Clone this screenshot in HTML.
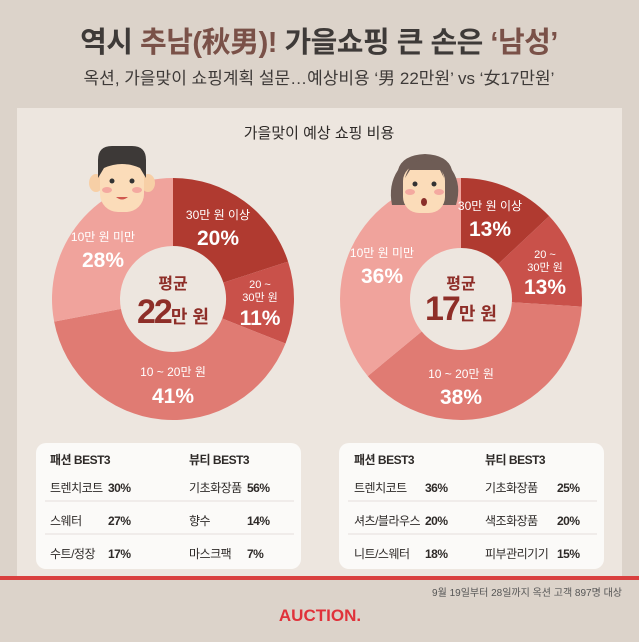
<!DOCTYPE html>
<html><head><meta charset="utf-8"><style>
html,body{margin:0;padding:0}
body{width:639px;height:637px;background:#dcd3ca;font-family:"Liberation Sans","Noto Sans CJK KR",sans-serif;overflow:hidden;position:relative}
svg text{font-family:"Liberation Sans","Noto Sans CJK KR",sans-serif}
</style></head><body>
<svg id="s" width="639" height="637" viewBox="0 0 639 637" xmlns="http://www.w3.org/2000/svg">
<rect x="0" y="0" width="639" height="637" fill="#dcd3ca"/>
<rect x="17" y="108" width="605" height="470" fill="#ede6df"/>
<rect x="0" y="576" width="639" height="4" fill="#d9403f"/>
<text x="319" y="52" text-anchor="middle" font-size="29" font-weight="bold" fill="#3e3a38" letter-spacing="-0.5">역시 <tspan fill="#7a5148">추남(秋男)!</tspan> 가을쇼핑 큰 손은 <tspan fill="#7a5148">‘남성’</tspan></text>
<text x="319" y="84" text-anchor="middle" font-size="17" fill="#3e3a38">옥션, 가을맞이 쇼핑계획 설문…예상비용 ‘男 22만원’ vs ‘女17만원’</text>
<text x="319" y="138" text-anchor="middle" font-size="15" fill="#2e2a28">가을맞이 예상 쇼핑 비용</text>
<g id="d1"></g><g id="d2"></g>
<g>
<ellipse cx="96" cy="183" rx="7" ry="9" fill="#f7cfa6"/>
<ellipse cx="148" cy="183" rx="7" ry="9" fill="#f7cfa6"/>
<rect x="100" y="160" width="44" height="52" rx="18" fill="#fbdcb9"/>
<path d="M98 178 L98 160 Q98 146 112 146 L132 146 Q146 146 146 160 L146 178 L140 168 Q122 160 104 168 Z" fill="#3d3937"/>
<circle cx="112" cy="181" r="2.5" fill="#333"/><circle cx="132" cy="181" r="2.5" fill="#333"/>
<ellipse cx="107" cy="190" rx="5" ry="3" fill="#f4a9a0"/><ellipse cx="137" cy="190" rx="5" ry="3" fill="#f4a9a0"/>
<path d="M116 197 Q122 202 128 197 Z" fill="#d0584e"/>
</g>
<g>
<path d="M392 205 Q388 185 398 170 Q402 155 425 154 Q448 155 452 170 Q462 185 456 205 Z" fill="#6e5c55"/>
<rect x="403" y="165" width="42" height="48" rx="16" fill="#fbdcb9"/>
<path d="M405 178 Q410 160 425 159 Q440 160 444 178 L440 170 L410 170 Z" fill="#6e5c55"/>
<circle cx="415" cy="184" r="2.5" fill="#333"/><circle cx="434" cy="184" r="2.5" fill="#333"/>
<ellipse cx="410" cy="192" rx="5" ry="3" fill="#f4a9a0"/><ellipse cx="439" cy="192" rx="5" ry="3" fill="#f4a9a0"/>
<ellipse cx="424" cy="202" rx="3" ry="4" fill="#8a2f2a"/>
</g>
<g fill="#fff" text-anchor="middle">
<text x="218" y="219" font-size="12">30만 원 이상</text>
<text x="218" y="245" font-size="21" font-weight="bold">20%</text>
<text x="260" y="288" font-size="11">20 ~</text>
<text x="260" y="301" font-size="11">30만 원</text>
<text x="260" y="325" font-size="21" font-weight="bold">11%</text>
<text x="173" y="376" font-size="12">10 ~ 20만 원</text>
<text x="173" y="403" font-size="21" font-weight="bold">41%</text>
<text x="103" y="241" font-size="12">10만 원 미만</text>
<text x="103" y="267" font-size="21" font-weight="bold">28%</text>
<text x="490" y="210" font-size="12">30만 원 이상</text>
<text x="490" y="236" font-size="21" font-weight="bold">13%</text>
<text x="545" y="258" font-size="11">20 ~</text>
<text x="545" y="271" font-size="11">30만 원</text>
<text x="545" y="294" font-size="21" font-weight="bold">13%</text>
<text x="461" y="378" font-size="12">10 ~ 20만 원</text>
<text x="461" y="404" font-size="21" font-weight="bold">38%</text>
<text x="382" y="257" font-size="12">10만 원 미만</text>
<text x="382" y="283" font-size="21" font-weight="bold">36%</text>
</g>
<g fill="#8e2e28" text-anchor="middle" font-weight="bold">
<text x="173" y="289" font-size="16">평균</text>
<text x="173" y="323" font-size="18"><tspan font-size="34" letter-spacing="-2">22</tspan>만 원</text>
<text x="461" y="289" font-size="16">평균</text>
<text x="461" y="320" font-size="18"><tspan font-size="34" letter-spacing="-2">17</tspan>만 원</text>
</g>
<rect x="36" y="443" width="265" height="126" rx="10" fill="#fbfaf8"/>
<rect x="339" y="443" width="265" height="126" rx="10" fill="#fbfaf8"/>
<g stroke="#e4dedb" stroke-width="1">
<line x1="45" y1="501" x2="294" y2="501"/><line x1="45" y1="534" x2="294" y2="534"/>
<line x1="348" y1="501" x2="597" y2="501"/><line x1="348" y1="534" x2="597" y2="534"/>
</g>
<g font-size="12" fill="#2e2a28" letter-spacing="-0.5">
<text x="50" y="464" font-weight="bold">패션 BEST3</text><text x="189" y="464" font-weight="bold">뷰티 BEST3</text>
<text x="50" y="492">트렌치코트</text><text x="108" y="492" font-weight="bold">30%</text>
<text x="189" y="492">기초화장품</text><text x="247" y="492" font-weight="bold">56%</text>
<text x="50" y="525">스웨터</text><text x="108" y="525" font-weight="bold">27%</text>
<text x="189" y="525">향수</text><text x="247" y="525" font-weight="bold">14%</text>
<text x="50" y="558">수트/정장</text><text x="108" y="558" font-weight="bold">17%</text>
<text x="189" y="558">마스크팩</text><text x="247" y="558" font-weight="bold">7%</text>
<text x="354" y="464" font-weight="bold">패션 BEST3</text><text x="485" y="464" font-weight="bold">뷰티 BEST3</text>
<text x="354" y="492">트렌치코트</text><text x="425" y="492" font-weight="bold">36%</text>
<text x="485" y="492">기초화장품</text><text x="557" y="492" font-weight="bold">25%</text>
<text x="354" y="525">셔츠/블라우스</text><text x="425" y="525" font-weight="bold">20%</text>
<text x="485" y="525">색조화장품</text><text x="557" y="525" font-weight="bold">20%</text>
<text x="354" y="558">니트/스웨터</text><text x="425" y="558" font-weight="bold">18%</text>
<text x="485" y="558">피부관리기기</text><text x="557" y="558" font-weight="bold">15%</text>
</g>
<text x="622" y="596" text-anchor="end" font-size="10" fill="#555">9월 19일부터 28일까지 옥션 고객 897명 대상</text>
<text x="320" y="621" text-anchor="middle" font-size="17" font-weight="bold" fill="#e0323a">AUCTION.</text>
</svg>
<script>
function donut(id,cx,cy,R,r,vals,cols){
 var g=document.getElementById(id),a=0,s='';
 for(var i=0;i<vals.length;i++){
  var a0=a*2*Math.PI,a1=(a+vals[i])*2*Math.PI;a+=vals[i];
  var p=function(rad,t){return (cx+rad*Math.sin(t)).toFixed(2)+' '+(cy-rad*Math.cos(t)).toFixed(2)};
  var lg=(a1-a0)>Math.PI?1:0;
  s+='<path fill="'+cols[i]+'" d="M'+p(R,a0)+' A'+R+' '+R+' 0 '+lg+' 1 '+p(R,a1)+' L'+p(r,a1)+' A'+r+' '+r+' 0 '+lg+' 0 '+p(r,a0)+' Z"/>';
 }
 g.innerHTML=s;
}
var C=['#b03a30','#c9514a','#e07b73','#f0a39c'];
donut('d1',173,299,121,53,[.20,.11,.41,.28],C);
donut('d2',461,299,121,51,[.13,.13,.38,.36],C);
</script>
</body></html>
